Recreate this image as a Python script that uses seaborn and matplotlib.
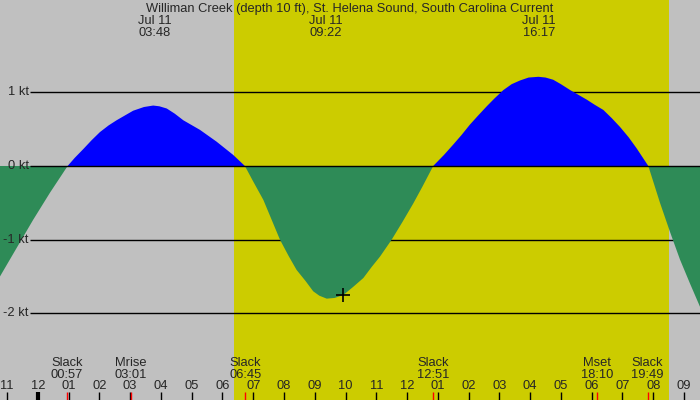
import numpy as np
import matplotlib
matplotlib.use("Agg")
import matplotlib.pyplot as plt
import seaborn as sns

# 数据：小时（从 7月11日 00:00 起算）与流速 (kt)
hours = np.array([-1.23, -0.60, -0.15, 0.40, 0.97, 1.20, 1.48, 1.75, 2.02, 2.30, 2.56, 2.85,
                  3.10, 3.45, 3.75, 3.95, 4.19, 4.45, 4.73, 5.27, 5.81, 6.35, 6.73, 7.00,
                  7.33, 7.60, 7.87, 8.15, 8.41, 8.70, 8.95, 9.15, 9.39, 9.65, 9.93, 10.25,
                  10.58, 10.85, 11.12, 11.50, 11.85, 12.20, 12.50, 12.85, 13.20, 13.50,
                  13.77, 14.04, 14.30, 14.59, 14.85, 15.13, 15.40, 15.67, 15.95, 16.27,
                  16.50, 16.75, 17.00, 17.30, 17.55, 17.84, 18.10, 18.38, 18.65, 18.92,
                  19.20, 19.46, 19.65, 19.84, 20.22, 20.55, 20.87, 21.20, 21.52])
speed = np.array([-1.50, -1.05, -0.73, -0.36, 0.00, 0.11, 0.23, 0.35, 0.46, 0.55, 0.62, 0.69,
                  0.75, 0.80, 0.82, 0.81, 0.78, 0.71, 0.62, 0.49, 0.33, 0.15, 0.00, -0.21,
                  -0.46, -0.73, -1.00, -1.22, -1.41, -1.56, -1.70, -1.76, -1.80, -1.79, -1.75,
                  -1.64, -1.52, -1.37, -1.23, -1.00, -0.76, -0.51, -0.28, 0.00, 0.15, 0.29,
                  0.42, 0.56, 0.68, 0.81, 0.92, 1.03, 1.11, 1.16, 1.20, 1.21,
                  1.20, 1.17, 1.11, 1.03, 0.97, 0.90, 0.83, 0.76, 0.65, 0.53,
                  0.39, 0.24, 0.12, 0.00, -0.50, -0.90, -1.27, -1.60, -1.91])

sunrise = 6.38
sunset = 20.51

top_times = [3.80, 9.367, 16.283]
top_labels = ["Jul 11\n03:48", "Jul 11\n09:22", "Jul 11\n16:17"]

event_times = [0.95, 3.017, 6.75, 12.85, 18.167, 19.817]
event_labels = ["Slack\n00:57", "Mrise\n03:01", "Slack\n06:45",
                "Slack\n12:51", "Mset\n18:10", "Slack\n19:49"]

tick_hours = list(range(-1, 22))
tick_labels = ["11", "12", "01", "02", "03", "04", "05", "06", "07", "08", "09", "10",
               "11", "12", "01", "02", "03", "04", "05", "06", "07", "08", "09"]

kt_levels = [1, 0, -1, -2]
kt_labels = ["1 kt", "0 kt", "-1 kt", "-2 kt"]

marker_time = [9.93]
marker_speed = [-1.75]

title = "Williman Creek (depth 10 ft), St. Helena Sound, South Carolina Current"

sns.set_theme(style="white")
plt.rcParams['font.family'] = ['Liberation Sans', 'DejaVu Sans']
fs = 9.3

gray = "#c0c0c0"
fig = plt.figure(figsize=(7, 4), dpi=100, facecolor=gray)
ax = fig.add_axes([0, 0, 1, 1])
ax.set_xlim(-1.228, 21.52)
ax.set_ylim(-3.175, 2.252)
ax.axis("off")

# 白天（黄色）
ax.axvspan(sunrise, sunset, color="#cccc00", lw=0, zorder=0)

# 水平参考线
for lv in kt_levels:
    if lv != 0:
        ax.hlines(lv, -0.254, 21.52, color="black", lw=1, zorder=1)
ax.hlines(0, -0.254, 21.52, color="black", lw=1, zorder=3)
for lv, lab in zip(kt_levels, kt_labels):
    ax.text(-0.3, lv, lab, ha="right", va="center", fontsize=fs, zorder=4)

# 涨落潮填充
ax.fill_between(hours, speed, 0, where=speed >= 0, interpolate=True,
                color="#0000ff", lw=0, zorder=2)
ax.fill_between(hours, speed, 0, where=speed <= 0, interpolate=True,
                color="#2e8b57", lw=0, zorder=2)

sns.scatterplot(x=marker_time, y=marker_speed, marker="+", color="black",
                s=90, linewidth=1.2, ax=ax, zorder=5, legend=False)

xt = ax.get_xaxis_transform()
ax.text(0.5, 0.977, title, transform=ax.transAxes, ha="center", va="center", fontsize=fs)
for t, lab in zip(top_times, top_labels):
    ax.text(t, 0.9325, lab, transform=xt, ha="center", va="center",
            fontsize=fs, linespacing=1.0)

for t, lab in zip(event_times, event_labels):
    ax.text(t, 0.0775, lab, transform=xt, ha="center", va="center",
            fontsize=fs, linespacing=1.0)
    ax.vlines(t, 0.0, 0.02, transform=xt, color="red", lw=1, zorder=5)

for t, lab in zip(tick_hours, tick_labels):
    ax.text(t, 0.034, lab, transform=xt, ha="center", va="center", fontsize=fs)
    ax.vlines(t, 0.0, 0.02, transform=xt, color="black",
              lw=3 if t == 0 else 1, zorder=4)

fig.savefig("out.png", dpi=100, facecolor=gray)
